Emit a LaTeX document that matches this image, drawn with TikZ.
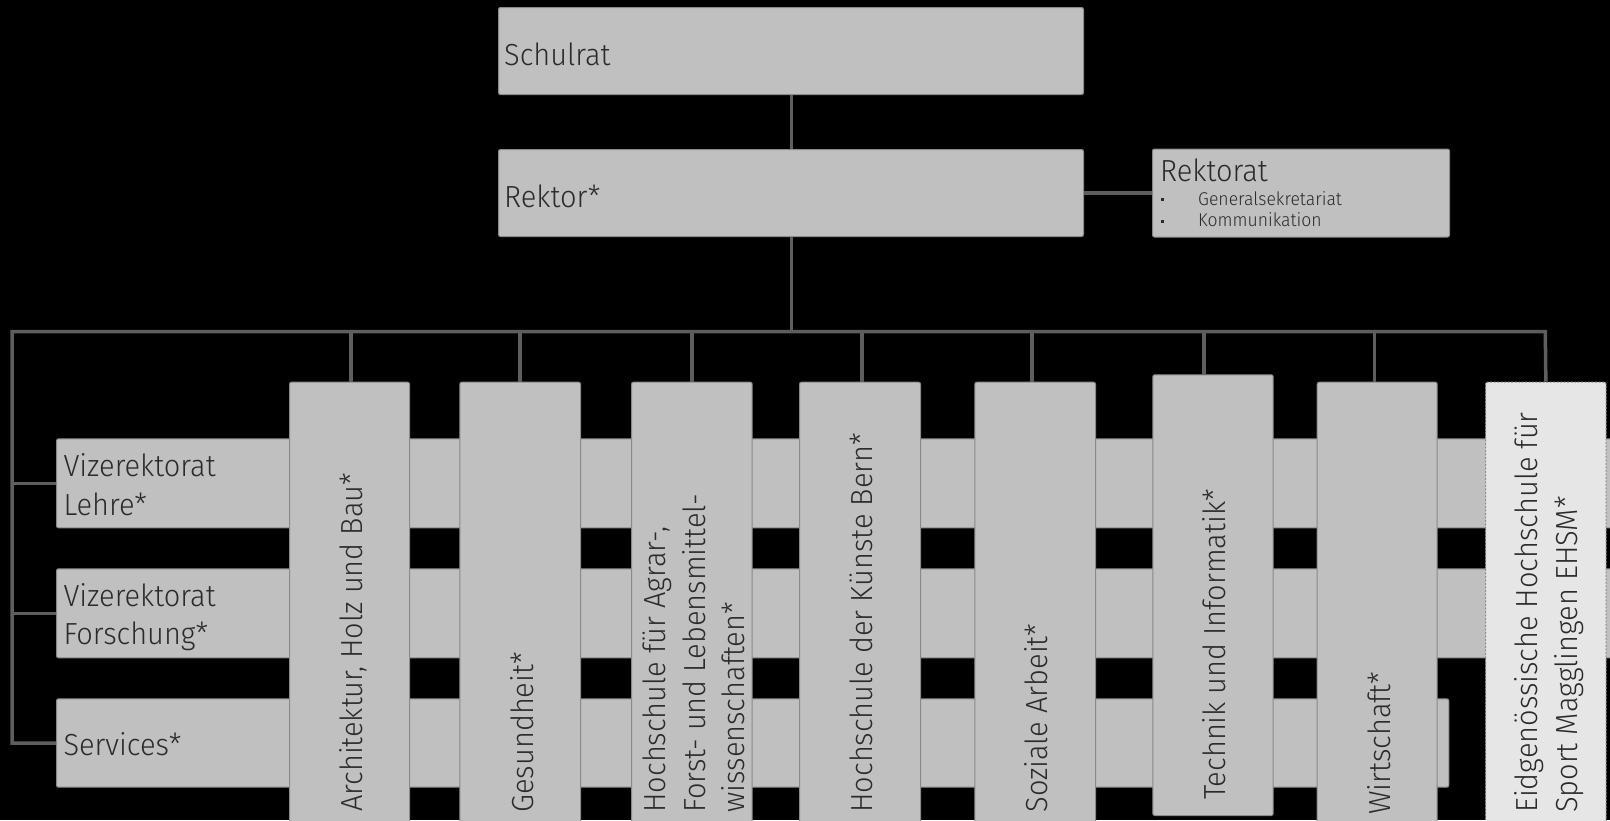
\documentclass[tikz,border=0pt]{standalone}
\usepackage{fontspec}
\setmainfont{Fira Sans Light}[FakeStretch=0.95]
\definecolor{boxfill}{HTML}{C0C0C0}
\definecolor{boxline}{HTML}{8A8A8A}
\definecolor{conncol}{HTML}{5E5E5E}
\definecolor{txt}{HTML}{2B2B2B}
\definecolor{ehsmfill}{HTML}{E6E6E6}
\tikzset{
  box/.style={draw=boxline, line width=1pt, fill=boxfill, rounded corners=2pt, inner sep=0pt, anchor=north west},
  conn/.style={draw=conncol, line width=3.5pt},
  lbl/.style={text=txt, inner sep=0pt, anchor=base west, font=\fontsize{30.5}{40}\selectfont},
  vlbl/.style={lbl, rotate=90},
  small/.style={text=txt, inner sep=0pt, anchor=base west, font=\fontsize{18.5}{22}\selectfont},
  bul/.style={fill=txt, inner sep=0pt, minimum size=3pt, rectangle},
}
\begin{document}
\begin{tikzpicture}[x=1pt,y=-1pt]
\useasboundingbox (0,0) rectangle (1610,820);
\fill[black] (0,0) rectangle (1610,820);
\begin{scope}
\clip (0,0) rectangle (1610,820);
% top boxes
\node[box, minimum width=585, minimum height=87] (schulrat) at (498,7) {};
\node[lbl] (schulratT) at (504,65) {Schulrat};
\node[box, minimum width=585, minimum height=87] (rektor) at (498,149) {};
\node[lbl] (rektorT) at (504,207) {Rektor*};
\node[box, minimum width=297, minimum height=88] (rektorat) at (1152,148.5) {};
\node[lbl] (rektoratT) at (1160,181.7) {Rektorat};
\node[bul] (b1) at (1162,199.5) {};
\node[bul] (b2) at (1162,221) {};
\node[small] (gs) at (1198,205) {Generalsekretariat};
\node[small] (kom) at (1198,226.7) {Kommunikation};
% horizontal bands
\node[box, minimum width=1570, minimum height=89] (lehre) at (56,438.3) {};
\node[box, minimum width=1570, minimum height=89] (forschung) at (56,568.3) {};
\node[box, minimum width=1392.3, minimum height=88.4] (services) at (56,698.3) {};
\node[lbl] (lehreA) at (63.3,476.7) {Vizerektorat};
\node[lbl] (lehreB) at (63.3,515) {Lehre*};
\node[lbl] (forA) at (63.3,606.7) {Vizerektorat};
\node[lbl] (forB) at (63.3,644.5) {Forschung*};
\node[lbl] (servT) at (63.3,755) {Services*};
% vertical boxes
\node[box, minimum width=120, minimum height=448] (arch) at (289,381.7) {};
\node[box, minimum width=120.7, minimum height=448] (gesund) at (459.3,381.7) {};
\node[box, minimum width=120.7, minimum height=448] (agrar) at (631,381.7) {};
\node[box, minimum width=121, minimum height=448] (kuenste) at (799,381.7) {};
\node[box, minimum width=120.7, minimum height=448] (sozial) at (974.3,381.7) {};
\node[box, minimum width=120.4, minimum height=440.7] (technik) at (1152.3,374.3) {};
\node[box, minimum width=120, minimum height=448] (wirtschaft) at (1316.7,381.7) {};
\node[box, fill=ehsmfill, dashed, dash pattern=on 2pt off 1.5pt, minimum width=120.7, minimum height=448] (ehsm) at (1485,381.7) {};
% vertical labels
\node[vlbl] (archT) at (362,812) {Architektur, Holz und Bau*};
\node[vlbl] (gesundT) at (533,812.7) {Gesundheit*};
\node[vlbl] (agrarA) at (665,812.7) {Hochschule für Agrar-,};
\node[vlbl] (agrarB) at (705,812.7) {Forst- und Lebensmittel-};
\node[vlbl] (agrarC) at (744,812.7) {wissenschaften*};
\node[vlbl] (kuensteT) at (872,812.7) {Hochschule der Künste Bern*};
\node[vlbl] (sozialT) at (1047,812.7) {Soziale Arbeit*};
\node[vlbl] (technikT) at (1225,800) {Technik und Informatik*};
\node[vlbl] (wirtschaftT) at (1390,815) {Wirtschaft*};
\node[vlbl] (ehsmA) at (1537.3,813) {Eidgenössische Hochschule für};
\node[vlbl] (ehsmB) at (1577,813) {Sport Magglingen EHSM*};
% connectors
\coordinate (busL) at (12,331.7);
\coordinate (busR) at (1545.3,331.7);
\draw[conn] (schulrat.south -| 791.5,0) -- (rektor.north -| 791.5,0);
\draw[conn] (rektor.south -| 791.5,0) -- (busL -| 791.5,0);
\draw[conn] (rektor.east) -- (rektor.east -| rektorat.west);
\draw[conn, line join=miter] (services.west) -- (services.west -| busL) -- (busL) -- (busR) -- (ehsm.north);
\draw[conn] (lehre.west) -- (lehre.west -| busL);
\draw[conn] (forschung.west) -- (forschung.west -| busL);
\draw[conn] ([xshift=1.5pt]arch.north) -- ([xshift=1.5pt]arch.north |- busL);
\draw[conn] (gesund.north) -- (gesund.north |- busL);
\draw[conn] (agrar.north) -- (agrar.north |- busL);
\draw[conn] ([xshift=2pt]kuenste.north) -- ([xshift=2pt]kuenste.north |- busL);
\draw[conn] ([xshift=-3pt]sozial.north) -- ([xshift=-3pt]sozial.north |- busL);
\draw[conn] ([xshift=-9pt]technik.north) -- ([xshift=-9pt]technik.north |- busL);
\draw[conn] ([xshift=-2.5pt]wirtschaft.north) -- ([xshift=-2.5pt]wirtschaft.north |- busL);
\end{scope}
\end{tikzpicture}
\end{document}
